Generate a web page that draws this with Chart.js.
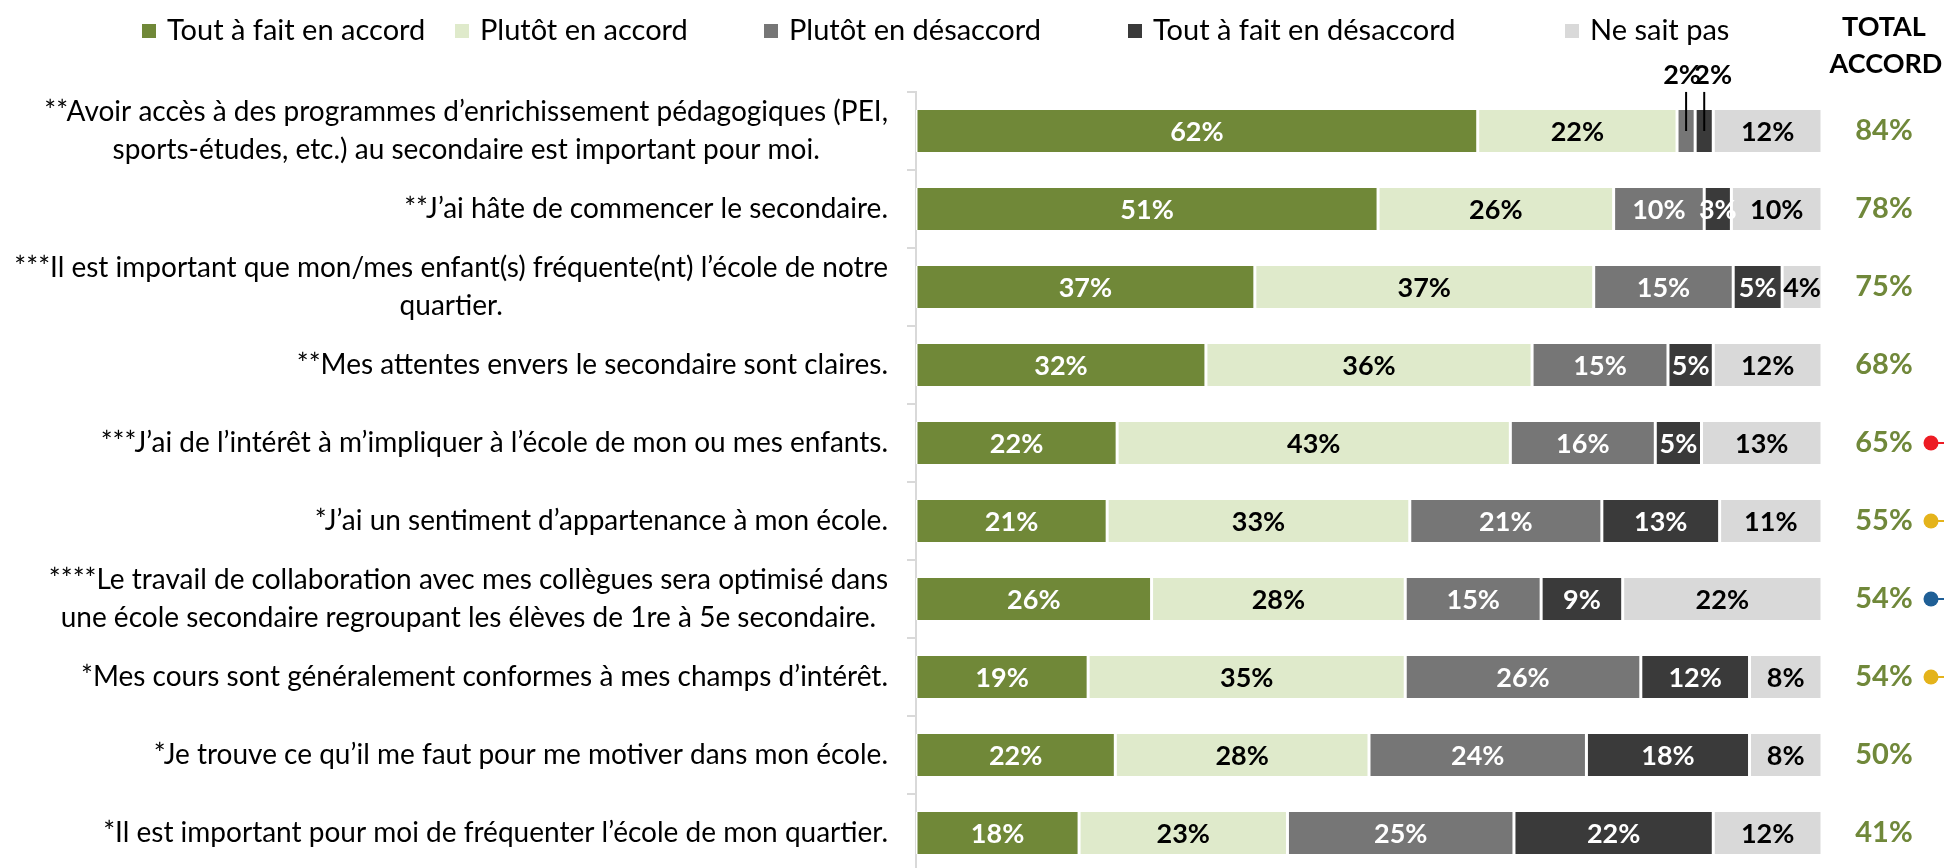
<!DOCTYPE html>
<html>
<head>
<meta charset="utf-8">
<script src="https://cdn.jsdelivr.net/npm/chart.js@4/dist/chart.umd.min.js"></script>
<style>
  html, body { margin: 0; padding: 0; background: #fff; overflow: hidden; }
  #wrap { width: 1944px; height: 880px; }
</style>
</head>
<body>
<div id="wrap"><canvas id="accord"></canvas></div>
<script>
const categories = [
  ['**Avoir accès à des programmes d’enrichissement pédagogiques (PEI,', 'sports-études, etc.) au secondaire est important pour moi.'],
  ['**J’ai hâte de commencer le secondaire.'],
  ['***Il est important que mon/mes enfant(s) fréquente(nt) l’école de notre', 'quartier.'],
  ['**Mes attentes envers le secondaire sont claires.'],
  ['***J’ai de l’intérêt à m’impliquer à l’école de mon ou mes enfants.'],
  ['*J’ai un sentiment d’appartenance à mon école.'],
  ['****Le travail de collaboration avec mes collègues sera optimisé dans', 'une école secondaire regroupant les élèves de 1re à 5e secondaire.'],
  ['*Mes cours sont généralement conformes à mes champs d’intérêt.'],
  ['*Je trouve ce qu’il me faut pour me motiver dans mon école.'],
  ['*Il est important pour moi de fréquenter l’école de mon quartier.']
];

const seriesNames = ['Tout à fait en accord', 'Plutôt en accord', 'Plutôt en désaccord', 'Tout à fait en désaccord', 'Ne sait pas'];

const toutAccord    = [62, 51, 37.4, 32, 22.2, 21.1, 26, 19, 22, 18];
const plutotAccord  = [22, 26, 37.4, 36, 43.4, 33.4, 28, 35, 28, 23];
const plutotDesacc  = [2, 10, 15.4, 15, 16, 21.2, 15, 26, 24, 25];
const toutDesacc    = [2, 3, 5.4, 5, 5.1, 13, 9, 12, 18, 22];
const neSaitPas     = [12, 10, 4.4, 12, 13.3, 11.3, 22, 8, 8, 12];

const totalAccord = [84, 78, 75, 68, 65, 55, 54, 54, 50, 41];
const dotColors = [null, null, null, null, '#ED1C24', '#E4B31B', '#1F5F96', '#E4B31B', null, null];

const fillColors  = ['#708838', '#DFEACB', '#767676', '#3A3A3A', '#D9D9D9'];
const labelColors = ['#fff', '#000', '#fff', '#fff', '#000'];
const green = '#70883A';
const FONT = 'Lato, "Open Sans", sans-serif';

const seriesData = [toutAccord, plutotAccord, plutotDesacc, toutDesacc, neSaitPas];

const decorations = {
  id: 'decorations',
  afterDraw(chart) {
    const ctx = chart.ctx;
    const yScale = chart.scales.y;
    ctx.save();

    // legend
    const legendX = [142, 455, 764, 1128, 1565];
    ctx.font = '29px ' + FONT;
    ctx.textBaseline = 'middle';
    ctx.textAlign = 'left';
    chart.data.datasets.forEach((ds, i) => {
      ctx.fillStyle = ds.backgroundColor;
      ctx.fillRect(legendX[i], 24, 14, 14);
      ctx.fillStyle = '#000';
      ctx.fillText(ds.label, legendX[i] + 25, 31);
    });

    // category labels: block right-aligned, lines centered
    const rightX = 888;
    const lineH = 38;
    ctx.font = '28px ' + FONT;
    chart.data.labels.forEach((lines, i) => {
      const yc = yScale.getPixelForValue(i);
      const widest = Math.max(...lines.map(l => ctx.measureText(l).width));
      ctx.textAlign = 'center';
      ctx.fillStyle = '#000';
      lines.forEach((l, k) => {
        const y = yc + (k - (lines.length - 1) / 2) * lineH;
        ctx.fillText(l, rightX - widest / 2, y);
      });
    });

    // total column
    ctx.textAlign = 'center';
    ctx.font = 'bold 27px ' + FONT;
    ctx.fillStyle = '#000';
    ctx.fillText('TOTAL', 1884, 27);
    ctx.fillText('ACCORD', 1886, 64);
    ctx.font = 'bold 29px ' + FONT;
    totalAccord.forEach((t, i) => {
      const yc = yScale.getPixelForValue(i);
      ctx.fillStyle = green;
      ctx.fillText(t + '%', 1884, yc);
      if (dotColors[i]) {
        ctx.fillStyle = dotColors[i];
        ctx.strokeStyle = dotColors[i];
        ctx.beginPath();
        ctx.arc(1931, yc, 7.5, 0, Math.PI * 2);
        ctx.fill();
        ctx.lineWidth = 2;
        ctx.beginPath();
        ctx.moveTo(1931, yc);
        ctx.lineTo(1944, yc);
        ctx.stroke();
      }
    });
    ctx.restore();
  },
  afterDatasetsDraw(chart) {
    const ctx = chart.ctx;
    ctx.save();
    ctx.font = 'bold 27px ' + FONT;
    ctx.textAlign = 'center';
    ctx.textBaseline = 'middle';
    chart.data.datasets.forEach((ds, di) => {
      const meta = chart.getDatasetMeta(di);
      meta.data.forEach((bar, i) => {
        const v = ds.data[i];
        const w = Math.abs(bar.x - bar.base);
        const cx = (bar.x + bar.base) / 2;
        const txt = Math.round(v) + '%';
        if (w < 22) {
          const top = bar.y - bar.height / 2;
          ctx.strokeStyle = '#000';
          ctx.lineWidth = 2;
          ctx.beginPath();
          ctx.moveTo(cx, top - 18);
          ctx.lineTo(cx, bar.y);
          ctx.stroke();
          ctx.fillStyle = '#000';
          ctx.fillText(txt, cx + (di === 2 ? -4 : 9), top - 35);
        } else {
          ctx.fillStyle = labelColors[di];
          ctx.fillText(txt, cx, bar.y + 1);
        }
      });
    });
    ctx.restore();
  }
};

new Chart(document.getElementById('accord'), {
  type: 'bar',
  data: {
    labels: categories,
    datasets: seriesData.map((d, i) => ({
      label: seriesNames[i],
      data: d,
      backgroundColor: fillColors[i],
      borderColor: '#fff',
      borderWidth: { left: 1.5, right: 1.5, top: 0, bottom: 0 },
      borderSkipped: false,
      categoryPercentage: 1,
      barPercentage: 0.54
    }))
  },
  options: {
    indexAxis: 'y',
    responsive: true,
    maintainAspectRatio: false,
    animation: false,
    layout: { padding: { top: 92, left: 907, right: 122, bottom: 8 } },
    plugins: { legend: { display: false }, tooltip: { enabled: false } },
    scales: {
      x: { stacked: true, min: 0, max: 100, display: false },
      y: {
        stacked: true,
        ticks: { display: false },
        grid: { color: '#D9D9D9', lineWidth: 2, drawOnChartArea: false, tickLength: 9, offset: true },
        border: { color: '#D9D9D9', width: 2 }
      }
    }
  },
  plugins: [decorations]
});
</script>
</body>
</html>
